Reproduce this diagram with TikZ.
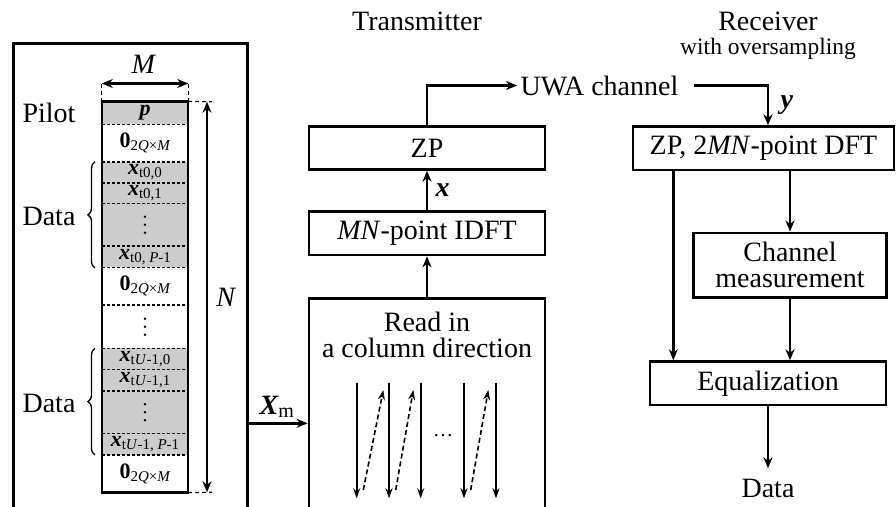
\documentclass[tikz,border=0pt]{standalone}
\usepackage{fontspec}
\setmainfont{Liberation Serif}
\usetikzlibrary{arrows.meta,decorations.pathreplacing}

\newcommand{\vecx}{{\bfseries\itshape x}}
\newcommand{\subtxt}[1]{\raisebox{-3pt}{\fontsize{15}{15}\selectfont #1}}
\newcommand{\zeroblk}{{\bfseries 0}\subtxt{2\textit{Q}×\textit{M}}}

\tikzset{
  blk/.style={shape=rectangle,draw=black,line width=2.8pt,inner sep=0pt},
  arr/.style={line width=2.4pt,-{Stealth[length=11pt,width=9pt]}},
  dim/.style={line width=2.2pt,{Stealth[length=11pt,width=9pt]}-{Stealth[length=11pt,width=9pt]}},
  guide/.style={line width=1.2pt,dash pattern=on 4pt off 3pt},
  rdarr/.style={line width=1.6pt,-{Stealth[length=10pt,width=7pt]}},
  cellg/.style={shape=rectangle,fill=black!20,minimum width=86pt,inner sep=0pt,font=\fontsize{22}{22}\selectfont},
  cellw/.style={cellg,fill=white},
  sep/.style={line width=1.8pt,dash pattern=on 3pt off 2pt},
  databrace/.style={decorate,decoration={brace,amplitude=7pt},line width=1.3pt}
}

\begin{document}
\begin{tikzpicture}[x=1pt,y=-1pt,font=\fontsize{28}{26}\selectfont]
        \useasboundingbox (0,0) rectangle (896,506);
        \clip (0,0) rectangle (896,506);

        % frame with the data matrix
        \node[blk,minimum width=234pt,minimum height=520pt,anchor=north west] (frame) at (12,42) {};

        \node[cellg,minimum height=22.6pt] (c1) at (145,113)    {{\bfseries\itshape p}};
        \node[cellw,minimum height=37.4pt] (c2) at (145,143)    {\zeroblk};
        \node[cellg,minimum height=21pt]   (c3) at (145,172.2)  {\vecx\subtxt{t0,0}};
        \node[cellg,minimum height=20.6pt] (c4) at (145,193)    {\vecx\subtxt{t0,1}};
        \node[cellg,minimum height=42.7pt] (c5) at (145,224.7)  {};
        \node[cellg,minimum height=21.3pt] (c6) at (145,256.7)  {\vecx\subtxt{t0, \textit{P}-1}};
        \node[cellw,minimum height=37.7pt] (c7) at (145,286.2)  {\zeroblk};
        \node[cellw,minimum height=43.3pt] (c8) at (145,326.7)  {};
        \node[cellg,minimum height=21pt]   (c9) at (145,358.8)  {\vecx\subtxt{t\textit{U}-1,0}};
        \node[cellg,minimum height=21.7pt] (c10) at (145,380.2) {\vecx\subtxt{t\textit{U}-1,1}};
        \node[cellg,minimum height=42.3pt] (c11) at (145,412.2) {};
        \node[cellg,minimum height=21.7pt] (c12) at (145,444.2) {\vecx\subtxt{t\textit{U}-1, \textit{P}-1}};
        \node[cellw,minimum height=37.3pt] (c13) at (145,473.7) {\zeroblk};

        % vertical dots
        \foreach \c in {c5,c8,c11} {
          \fill ([yshift=-8pt]\c.center) circle (1.4pt);
          \fill (\c.center) circle (1.4pt);
          \fill ([yshift=8pt]\c.center) circle (1.4pt);
        }

        \draw[sep] (c1.south west) -- (c1.south east);
        \draw[sep] (c2.south west) -- (c2.south east);
        \draw[sep] (c3.south west) -- (c3.south east);
        \draw[sep] (c4.south west) -- (c4.south east);
        \draw[sep] (c5.south west) -- (c5.south east);
        \draw[sep] (c6.south west) -- (c6.south east);
        \draw[sep] (c7.south west) -- (c7.south east);
        \draw[sep] (c8.south west) -- (c8.south east);
        \draw[sep] (c9.south west) -- (c9.south east);
        \draw[sep] (c10.south west) -- (c10.south east);
        \draw[sep] (c11.south west) -- (c11.south east);
        \draw[sep] (c12.south west) -- (c12.south east);
        \draw[line width=2.2pt] (c1.north west) rectangle (c13.south east);

        % size marks
        \draw[guide] (c1.north west) -- ++(0,-18) coordinate (mL);
        \draw[guide] (c1.north east) -- ++(0,-18) coordinate (mR);
        \path[dim] (mL) edge (mR);
        \node[anchor=base] (mlab) at (144,73) {\textit{M}};

        \coordinate (nT) at (207,101.7);
        \coordinate (nB) at (207,492.3);
        \draw[guide] (c1.north east) -- (212,101.7);
        \draw[guide] (c13.south east) -- (212,492.3);
        \path[dim] (nT) edge node[right=5pt]{\textit{N}} (nB);

        \node[anchor=base] (pilot) at (49,122) {Pilot};
        \node[anchor=base] (data1) at (49,225) {Data};
        \node[anchor=base] (data2) at (49,412) {Data};
        \draw[databrace] (95,268) -- (95,161.7);
        \draw[databrace] (95,455) -- (95,348.3);

        % transmitter
        \node[anchor=base] (tx) at (417,30) {Transmitter};
        \node[blk,minimum width=236pt,minimum height=42.6pt] (zp) at (427,148) {ZP};
        \node[blk,minimum width=236pt,minimum height=43.3pt] (idft) at (427,233.3) {\textit{MN}-point IDFT};
        \node[blk,minimum width=236pt,minimum height=260pt,anchor=north] (rd) at (427,296.7) {};
        \node[align=center] (rdtxt) at (427,335) {Read in\\a column direction};

        \draw[rdarr] (356.7,382.7) -- (356.7,498.3);
        \draw[rdarr] (389,382.7) -- (389,498.3);
        \draw[rdarr] (420.7,382.7) -- (420.7,498.3);
        \draw[rdarr] (464,382.7) -- (464,498.3);
        \draw[rdarr] (496,382.7) -- (496,498.3);
        \draw[rdarr,dash pattern=on 5pt off 3pt] (363.3,490) -- (383.3,390);
        \draw[rdarr,dash pattern=on 5pt off 3pt] (395.7,490) -- (413.3,390);
        \draw[rdarr,dash pattern=on 5pt off 3pt] (470.7,490) -- (488.3,390);
        \node (dots) at (443,436) {\fontsize{20}{20}\selectfont\dots};

        \coordinate (xm) at (246,423.3);
        \draw[arr] (xm) -- (xm -| rd.west) node[midway,above=1pt]{{\bfseries\itshape X}\raisebox{-3pt}{\fontsize{20}{20}\selectfont m}};

        \path[arr] (rd.north) edge (idft.south);
        \path[arr] (idft.north) edge node[right=4pt]{\vecx} (zp.south);

        \node[anchor=base west] (uwa) at (517,95) {UWA channel};
        \draw[arr] (zp.north) |- (uwa.west);

        % receiver
        \node[anchor=base] (rx) at (768,30) {Receiver};
        \node[anchor=base,font=\fontsize{23.5}{24}\selectfont] (rxs) at (768,54) {with oversampling};
        \node[blk,minimum width=261pt,minimum height=43.3pt] (dft) at (763.5,148.3) {ZP, 2\textit{MN}-point DFT};
        \node[blk,minimum width=193.4pt,minimum height=64.7pt,align=center] (chm) at (790,265.3) {Channel\\measurement};
        \node[blk,minimum width=236pt,minimum height=43.3pt] (eq) at (768,383.3) {Equalization};
        \node[anchor=base] (out) at (768,497) {Data};

        \draw[arr,shorten <=12pt] (uwa.east) -| ([xshift=4.5pt]dft.north) node[pos=0.75,right=8pt]{{\bfseries\itshape y}};
        \coordinate (byp) at (673.3,0);
        \path[arr] (byp |- dft.south) edge (byp |- eq.north);
        \path[arr] (dft.south -| chm.north) edge (chm.north);
        \path[arr] (chm.south) edge (chm.south |- eq.north);
        \path[arr] (eq.south) edge (768,468.3);
\end{tikzpicture}
\end{document}
